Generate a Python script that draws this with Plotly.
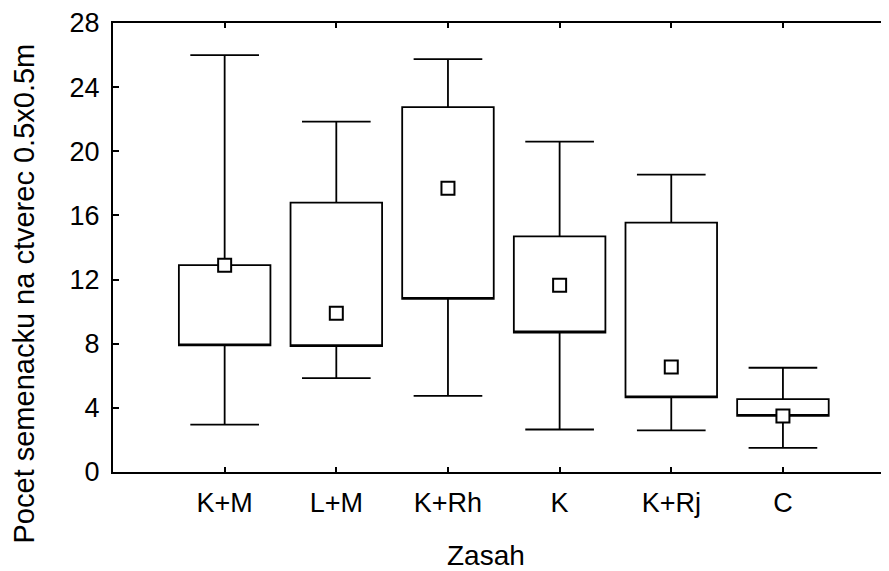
import plotly.graph_objects as go

categories = ["K+M", "L+M", "K+Rh", "K", "K+Rj", "C"]
medians = [12.9, 9.9, 17.7, 11.65, 6.55, 3.5]
q1 = [7.9, 7.85, 10.8, 8.7, 4.65, 3.5]
q3 = [12.9, 16.8, 22.75, 14.7, 15.55, 4.55]
mins = [2.95, 5.85, 4.75, 2.65, 2.6, 1.5]
maxs = [26.0, 21.85, 25.75, 20.6, 18.55, 6.5]
y_ticks = [0, 4, 8, 12, 16, 20, 24, 28]

FONT = "Liberation Sans, Arial, sans-serif"

fig = go.Figure()
# Box (25-75 %) and whiskers (min-max); the median is drawn as a separate square marker
fig.add_trace(go.Box(
    x=categories, q1=q1, median=q1, q3=q3,
    lowerfence=mins, upperfence=maxs,
    width=0.82, whiskerwidth=0.75,
    fillcolor="rgba(255,255,255,0)",
    line=dict(color="black", width=1.8),
    boxpoints=False, showlegend=False, hoverinfo="skip",
))
fig.add_trace(go.Scatter(
    x=categories, y=medians, mode="markers",
    marker=dict(symbol="square", size=13, color="white",
                line=dict(color="black", width=2)),
    showlegend=False,
))

# page body has an 8px default margin; the figure is sized/offset to compensate
fig.update_layout(
    width=881, height=563,
    margin=dict(l=105, r=0, t=15, b=99),
    paper_bgcolor="white", plot_bgcolor="white",
    font=dict(family=FONT, color="black", size=27),
    xaxis=dict(
        type="category", categoryorder="array", categoryarray=categories,
        range=[-1, 5.95], showline=True, linecolor="black", linewidth=2,
        mirror="ticks", ticks="inside", ticklen=5, tickwidth=1.5, tickcolor="black",
        showgrid=False, zeroline=False, tickfont=dict(size=27),
        ticklabelstandoff=6,
    ),
    yaxis=dict(
        range=[0, 28], tickvals=y_ticks, showline=True, linecolor="black",
        linewidth=2, ticks="inside", ticklen=6, tickwidth=1.5, tickcolor="black",
        showgrid=False, zeroline=False, tickfont=dict(size=27),
        ticklabelstandoff=6,
    ),
    annotations=[
        dict(text="Pocet semenacku na ctverec 0.5x0.5m", textangle=-90,
             xref="paper", yref="paper", x=-0.1147, y=0.3976,
             xanchor="center", yanchor="middle", showarrow=False,
             font=dict(size=29)),
        dict(text="Zasah", xref="paper", yref="paper", x=0.4807, y=-0.186,
             xanchor="center", yanchor="middle", showarrow=False,
             font=dict(size=28)),
    ],
)

fig.write_html("out.html")
